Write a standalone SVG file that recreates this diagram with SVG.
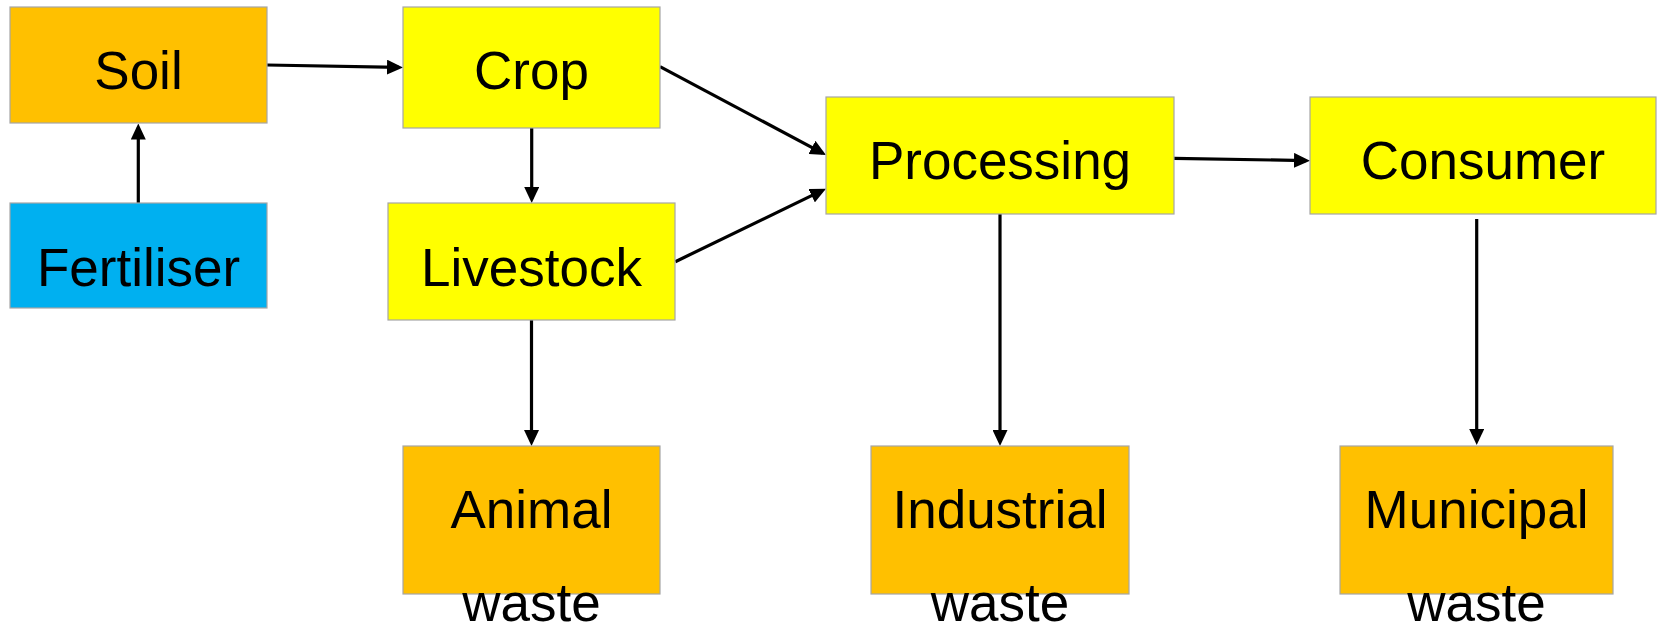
<svg xmlns="http://www.w3.org/2000/svg" width="1662" height="627" viewBox="0 0 1662 627">
<style>
.box{stroke:#A6A6A6;stroke-width:1.2}
.orange{fill:#FFC000}
.yellow{fill:#FFFF00}
.blue{fill:#00B0F0}
.lbl{font-family:"Liberation Sans",Arial,sans-serif;font-size:53px;fill:#000;text-anchor:middle}
.edge{stroke:#000;stroke-width:3.2;fill:none;marker-end:url(#ah)}
</style>
<defs>
<marker id="ah" viewBox="0 0 16 15" refX="12" refY="7.5" markerWidth="16" markerHeight="15" markerUnits="userSpaceOnUse" orient="auto">
<path d="M0,0 L16,7.5 L0,15 z" fill="#000"/>
</marker>
</defs>
<rect width="1662" height="627" fill="#fff"/>
<g id="connectors">
<line class="edge" x1="267" y1="65" x2="399" y2="67.4"/>
<line class="edge" x1="138.3" y1="203" x2="138.3" y2="127.5"/>
<line class="edge" x1="531.7" y1="128" x2="531.7" y2="199"/>
<line class="edge" x1="660" y1="66.7" x2="822.5" y2="153.1"/>
<line class="edge" x1="675.3" y1="261.7" x2="822.4" y2="190.4"/>
<line class="edge" x1="1174" y1="158.3" x2="1306" y2="160.6"/>
<line class="edge" x1="531.5" y1="320" x2="531.5" y2="442"/>
<line class="edge" x1="1000" y1="214" x2="1000" y2="442"/>
<line class="edge" x1="1476.7" y1="219" x2="1476.7" y2="441"/>
</g>
<g id="soil"><rect class="box orange" x="10" y="7" width="257" height="116"/><text class="lbl" x="138.5" y="89">Soil</text></g>
<g id="fertiliser"><rect class="box blue" x="10" y="203" width="257" height="105"/><text class="lbl" x="138.5" y="286">Fertiliser</text></g>
<g id="crop"><rect class="box yellow" x="403" y="7" width="257" height="121"/><text class="lbl" x="531.5" y="89">Crop</text></g>
<g id="livestock"><rect class="box yellow" x="388" y="203" width="287" height="117"/><text class="lbl" x="531.5" y="286">Livestock</text></g>
<g id="processing"><rect class="box yellow" x="826" y="97" width="348" height="117"/><text class="lbl" x="1000" y="179">Processing</text></g>
<g id="consumer"><rect class="box yellow" x="1310" y="97" width="346" height="117"/><text class="lbl" x="1483" y="179">Consumer</text></g>
<g id="animal-waste"><rect class="box orange" x="403" y="446" width="257" height="148"/><text class="lbl" x="531.5" y="528">Animal</text><text class="lbl" x="531.5" y="621">waste</text></g>
<g id="industrial-waste"><rect class="box orange" x="871" y="446" width="258" height="148"/><text class="lbl" x="1000" y="528">Industrial</text><text class="lbl" x="1000" y="621">waste</text></g>
<g id="municipal-waste"><rect class="box orange" x="1340" y="446" width="273" height="148"/><text class="lbl" x="1476.5" y="528">Municipal</text><text class="lbl" x="1476.5" y="621">waste</text></g>
</svg>
